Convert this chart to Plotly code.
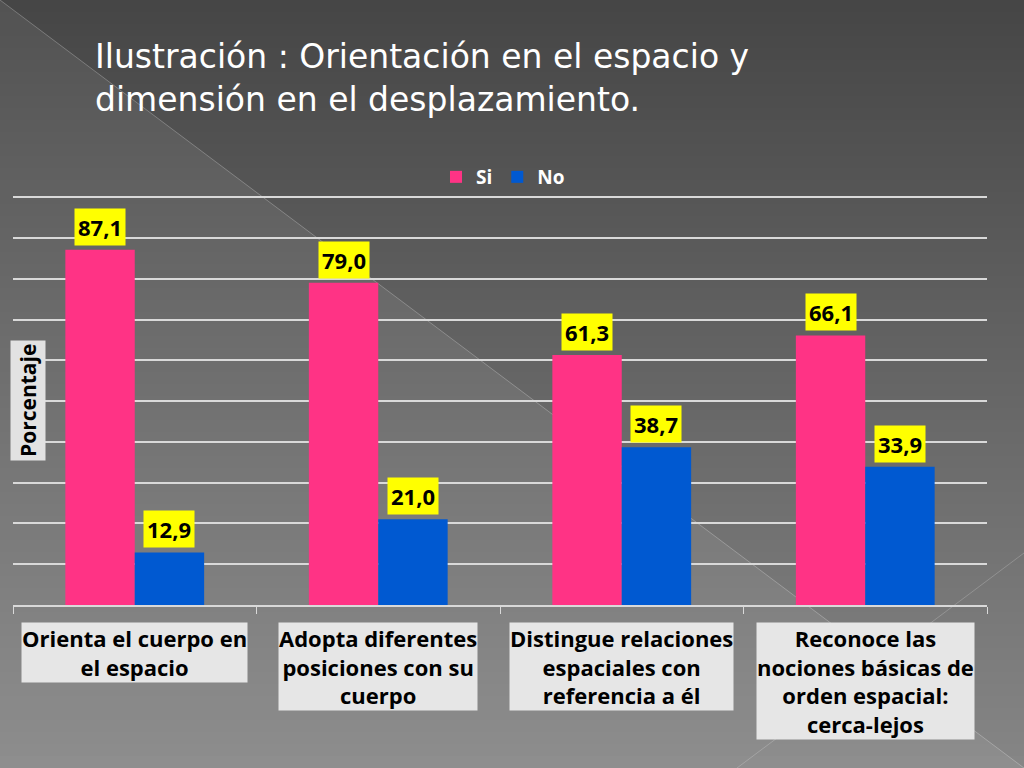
import plotly.graph_objects as go

categorias = [
    "Orienta el cuerpo en<br>el espacio",
    "Adopta diferentes<br>posiciones con su<br>cuerpo",
    "Distingue relaciones<br>espaciales con<br>referencia a él",
    "Reconoce las<br>nociones básicas de<br>orden espacial:<br>cerca-lejos",
]
si = [87.1, 79.0, 61.3, 66.1]
no = [12.9, 21.0, 38.7, 33.9]
x_pos = [0, 1, 2, 3]

W, H = 1024, 768
L, R, T, B = 13, 37, 196, 163
PW, PH = W - L - R, H - T - B


def px(xp, yp):
    # pixel position -> paper coordinates
    return (xp - L) / PW, (H - B - yp) / PH


def coma(v):
    return f"{v:.1f}".replace(".", ",")


fig = go.Figure()
bw = 0.285
fig.add_trace(go.Bar(x=x_pos, y=si, name="Si", width=bw, offset=-bw,
                     marker=dict(color="#ff3385", line=dict(width=0))))
fig.add_trace(go.Bar(x=x_pos, y=no, name="No", width=bw, offset=0,
                     marker=dict(color="#0059d1", line=dict(width=0))))

# background gradient made from bands
shapes = []
n = 64
for i in range(n):
    y0, y1 = H * i / n, H * (i + 1) / n + 1
    g = int(70 + (134 - 70) * i / (n - 1))
    a0, b0 = px(-2, y0)
    a1, b1 = px(W + 2, y1)
    shapes.append(dict(type="rect", xref="paper", yref="paper", x0=a0, x1=a1, y0=b0, y1=b1,
                       fillcolor=f"rgb({g},{g},{g})", line=dict(width=0), layer="below"))

# lighter diagonal triangle
p0, p1, p2 = px(0, 0), px(W, H), px(0, H)
shapes.append(dict(type="path", xref="paper", yref="paper",
                   path=f"M {p0[0]},{p0[1]} L {p1[0]},{p1[1]} L {p2[0]},{p2[1]} Z",
                   fillcolor="rgba(255,255,255,0.07)", line=dict(width=0), layer="below"))
shapes.append(dict(type="line", xref="paper", yref="paper", x0=p0[0], y0=p0[1], x1=p1[0], y1=p1[1],
                   line=dict(color="rgba(255,255,255,0.25)", width=1), layer="below"))
q0, q1 = px(W, 553), px(737, H)
shapes.append(dict(type="line", xref="paper", yref="paper", x0=q0[0], y0=q0[1], x1=q1[0], y1=q1[1],
                   line=dict(color="rgba(255,255,255,0.2)", width=1), layer="below"))

annotations = []
lab_font = dict(family="Open Sans", size=22, color="black", weight="bold")
for i, v in enumerate(si):
    annotations.append(dict(x=x_pos[i] - bw / 2, y=v, xref="x", yref="y", text=coma(v),
                            showarrow=False, yanchor="bottom", yshift=4, bgcolor="#ffff00",
                            borderpad=3, font=lab_font))
for i, v in enumerate(no):
    annotations.append(dict(x=x_pos[i] + bw / 2, y=v, xref="x", yref="y", text=coma(v),
                            showarrow=False, yanchor="bottom", yshift=4, bgcolor="#ffff00",
                            borderpad=3, font=lab_font))

cat_font = dict(family="Open Sans", size=22, color="black", weight="bold")
for i, c in enumerate(categorias):
    annotations.append(dict(x=x_pos[i], y=px(0, 622)[1], xref="x", yref="paper", text=c,
                            showarrow=False, yanchor="top", align="center", bgcolor="#e6e6e6",
                            borderpad=0, font=cat_font))

yt = px(28, 401)
annotations.append(dict(x=yt[0], y=yt[1], xref="paper", yref="paper", text="Porcentaje",
                        textangle=-90, showarrow=False, xanchor="center", yanchor="middle",
                        bgcolor="#e2e2e2", borderpad=3,
                        font=dict(family="Open Sans", size=21, color="black", weight="bold")))

fig.update_layout(
    width=W, height=H,
    margin=dict(l=L, r=R, t=T, b=B, autoexpand=False),
    paper_bgcolor="#868686",
    plot_bgcolor="rgba(0,0,0,0)",
    title=dict(text="Ilustración : Orientación en el espacio y<br>dimensión en el desplazamiento.",
               x=95 / W, xanchor="left", xref="container", y=1 - 68 / H, yanchor="top",
               font=dict(family="DejaVu Sans", size=33, color="white")),
    legend=dict(orientation="h", xref="container", yref="container",
                x=503 / W, xanchor="center", y=1 - 177 / H, yanchor="middle",
                bgcolor="rgba(0,0,0,0)",
                font=dict(family="Open Sans", size=19, color="white", weight="bold")),
    xaxis=dict(range=[-0.5, 3.5], tickvals=[-0.5, 0.5, 1.5, 2.5, 3.5], ticktext=[""] * 5,
               ticks="outside", ticklen=7, tickcolor="#d9d9d9", showline=True,
               linecolor="#d9d9d9", linewidth=2, showgrid=False, zeroline=False),
    yaxis=dict(range=[0, 100.3], dtick=10, showticklabels=False, gridcolor="#d9d9d9",
               gridwidth=2, zeroline=False, showline=False),
    shapes=shapes,
    annotations=annotations,
    showlegend=True,
)

fig.write_html("out.html", config={"displayModeBar": False},
               post_script="document.body.style.margin='0px';")
